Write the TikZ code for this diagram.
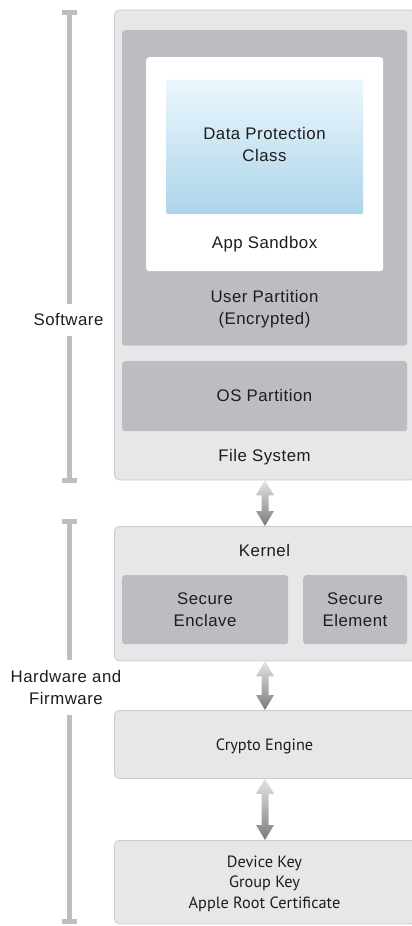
\documentclass[tikz,border=0pt]{standalone}
\usepackage{fontspec}
\setmainfont[LetterSpace=3.0]{Liberation Sans}
\newfontfamily\myr{PT Sans}
\usetikzlibrary{calc}
\definecolor{outerfill}{HTML}{E6E7E8}
\definecolor{outerline}{HTML}{C9CACC}
\definecolor{partfill}{HTML}{BCBDC0}
\definecolor{bartone}{HTML}{BDBEC1}
\definecolor{gradtop}{HTML}{EBF7FD}
\definecolor{gradbot}{HTML}{ADD4EA}
\definecolor{txtcol}{HTML}{1D1D1F}
\definecolor{arrlight}{HTML}{E4E4E4}
\definecolor{arrdark}{HTML}{7C7C7C}
\tikzset{
  x=1pt,y=-1pt,
  outerbox/.style={draw=outerline,line width=0.8pt,fill=outerfill,rounded corners=5pt,anchor=north west,inner sep=0pt},
  partbox/.style={fill=partfill,rounded corners=3pt,anchor=north west,inner sep=0pt},
  whitebox/.style={fill=white,rounded corners=3pt,anchor=north west,inner sep=0pt},
  dpbox/.style={top color=gradtop,bottom color=gradbot,rounded corners=1.5pt,anchor=north west,inner sep=0pt},
  sftxt/.style={text=txtcol,font=\fontsize{16.8}{22}\selectfont,align=center,inner sep=0pt},
  myrtxt/.style={text=txtcol,font=\myr\fontsize{16.3}{20.5}\selectfont,align=center,inner sep=0pt},
  barline/.style={fill=bartone,draw=none},
  dblarrow/.style={top color=arrlight,bottom color=arrdark,draw=none}
}
\newcommand{\twoarrow}[2]{%
  \path[dblarrow] let \p1=(#1.south), \p2=(#2.north) in
    (265pt,\y1) -- (274pt,\y1-15pt) -- (268.5pt,\y1-15pt) -- (268.5pt,\y2+15pt) --
    (274pt,\y2+15pt) -- (265pt,\y2) -- (256pt,\y2+15pt) -- (261.5pt,\y2+15pt) --
    (261.5pt,\y1-15pt) -- (256pt,\y1-15pt) -- cycle;}
\begin{document}
\begin{tikzpicture}
\useasboundingbox (0,0) rectangle (412,926);
\clip (0,0) rectangle (412,926);
% brackets
\fill[barline] (66.8,10) rectangle (72.4,304);
\fill[barline] (61.8,9.5) rectangle (77.3,14.5);
\fill[barline] (66.8,336) rectangle (72.4,480);
\fill[barline] (61.8,477.5) rectangle (77.3,482.5);
\fill[barline] (66.8,520) rectangle (72.4,660);
\fill[barline] (61.8,519) rectangle (77.3,524);
\fill[barline] (66.8,715) rectangle (72.4,922);
\fill[barline] (61.8,919) rectangle (77.3,924);
\node[sftxt] (swlab) at (68.5,319) {Software};
\node[sftxt] (hwlab) at (66,687) {Hardware and\\Firmware};
% file system
\node[outerbox,minimum width=302pt,minimum height=470pt] (fs) at (114,9.5) {};
\node[partbox,minimum width=285pt,minimum height=315.5pt] (up) at (122,30) {};
\node[whitebox,minimum width=237pt,minimum height=214pt] (sb) at (146,57) {};
\node[dpbox,minimum width=197pt,minimum height=134.5pt] (dp) at (166,79.5) {};
\node[sftxt] (dptxt) at (264.5,144) {Data Protection\\Class};
\node[sftxt] (sbtxt) at (264.5,244) {App Sandbox};
\node[sftxt] (uptxt) at (264.5,309) {User Partition\\(Encrypted)};
\node[partbox,minimum width=285pt,minimum height=70pt] (os) at (122,361) {};
\node[sftxt] (ostxt) at (264.5,395.5) {OS Partition};
\node[sftxt] (fstxt) at (264.5,457) {File System};
% kernel
\node[outerbox,minimum width=302pt,minimum height=134.5pt] (kern) at (114,526) {};
\node[sftxt] (kerntxt) at (264.5,550) {Kernel};
\node[partbox,minimum width=166pt,minimum height=69pt] (se) at (122,575) {};
\node[sftxt] (setxt) at (205,609.5) {Secure\\Enclave};
\node[partbox,minimum width=104pt,minimum height=69pt] (sel) at (303,575) {};
\node[sftxt] (seltxt) at (355,609.5) {Secure\\Element};
% crypto engine
\node[outerbox,minimum width=302pt,minimum height=68pt] (ce) at (114,710) {};
\node[myrtxt] (cetxt) at (264.5,746) {Crypto Engine};
% keys
\node[outerbox,minimum width=302pt,minimum height=83.5pt] (keys) at (114,840) {};
\node[myrtxt] (keystxt) at (264.5,883.5) {Device Key\\Group Key\\Apple Root Certificate};
% arrows
\twoarrow{fs}{kern}
\twoarrow{kern}{ce}
\twoarrow{ce}{keys}
\end{tikzpicture}
\end{document}
